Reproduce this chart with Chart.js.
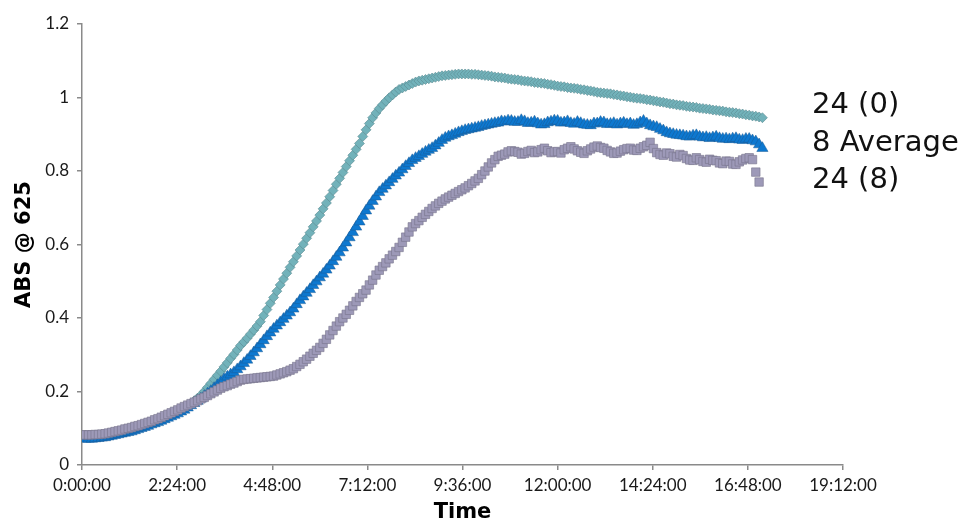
<!DOCTYPE html>
<html>
<head>
<meta charset="utf-8">
<script src="https://cdn.jsdelivr.net/npm/chart.js@4/dist/chart.umd.min.js"></script>
<style>
  html, body { margin: 0; padding: 0; background: #ffffff; }
  #wrap { position: relative; width: 971px; height: 525px; }
  #series-names {
    position: absolute; left: 812px; top: 85px;
    font-family: "DejaVu Sans", sans-serif; font-size: 29px; line-height: 37.5px;
    color: #111111; white-space: nowrap;
  }
</style>
</head>
<body>
<div id="wrap">
  <canvas id="chart" width="971" height="525"></canvas>
  <div id="series-names">
    <div>24 (0)</div>
    <div>8 Average</div>
    <div>24 (8)</div>
  </div>
</div>
<script>
// Sampling times, minutes from start of the run (one reading every 5 min)
const minutes = [
  0, 5, 10, 15, 20, 25, 30, 35, 40, 45, 50, 55,
  60, 65, 70, 75, 80, 85, 90, 95, 100, 105, 110, 115,
  120, 125, 130, 135, 140, 145, 150, 155, 160, 165, 170, 175,
  180, 185, 190, 195, 200, 205, 210, 215, 220, 225, 230, 235,
  240, 245, 250, 255, 260, 265, 270, 275, 280, 285, 290, 295,
  300, 305, 310, 315, 320, 325, 330, 335, 340, 345, 350, 355,
  360, 365, 370, 375, 380, 385, 390, 395, 400, 405, 410, 415,
  420, 425, 430, 435, 440, 445, 450, 455, 460, 465, 470, 475,
  480, 485, 490, 495, 500, 505, 510, 515, 520, 525, 530, 535,
  540, 545, 550, 555, 560, 565, 570, 575, 580, 585, 590, 595,
  600, 605, 610, 615, 620, 625, 630, 635, 640, 645, 650, 655,
  660, 665, 670, 675, 680, 685, 690, 695, 700, 705, 710, 715,
  720, 725, 730, 735, 740, 745, 750, 755, 760, 765, 770, 775,
  780, 785, 790, 795, 800, 805, 810, 815, 820, 825, 830, 835,
  840, 845, 850, 855, 860, 865, 870, 875, 880, 885, 890, 895,
  900, 905, 910, 915, 920, 925, 930, 935, 940, 945, 950, 955,
  960, 965, 970, 975, 980, 985, 990, 995, 1000, 1005, 1010, 1015,
  1020, 1025, 1030
];

// ABS @ 625 readings, one row per hour
const abs24_0 = [
  0.080, 0.080, 0.080, 0.081, 0.081, 0.081, 0.082, 0.083, 0.084, 0.086, 0.088, 0.090,
  0.092, 0.094, 0.096, 0.099, 0.101, 0.103, 0.106, 0.109, 0.112, 0.115, 0.118, 0.121,
  0.125, 0.129, 0.133, 0.137, 0.141, 0.145, 0.150, 0.156, 0.162, 0.168, 0.175, 0.182,
  0.190, 0.200, 0.211, 0.222, 0.233, 0.244, 0.255, 0.267, 0.278, 0.290, 0.301, 0.313,
  0.325, 0.335, 0.345, 0.356, 0.367, 0.378, 0.390, 0.407, 0.423, 0.440, 0.456, 0.473,
  0.490, 0.506, 0.522, 0.538, 0.553, 0.569, 0.585, 0.601, 0.617, 0.632, 0.648, 0.664,
  0.680, 0.697, 0.713, 0.730, 0.747, 0.764, 0.780, 0.796, 0.812, 0.828, 0.843, 0.859,
  0.875, 0.894, 0.912, 0.929, 0.945, 0.958, 0.970, 0.980, 0.990, 0.999, 1.007, 1.015,
  1.022, 1.026, 1.030, 1.034, 1.038, 1.042, 1.045, 1.047, 1.049, 1.051, 1.053, 1.055,
  1.057, 1.059, 1.060, 1.061, 1.062, 1.063, 1.064, 1.064, 1.064, 1.064, 1.063, 1.063,
  1.062, 1.061, 1.060, 1.059, 1.058, 1.056, 1.055, 1.054, 1.053, 1.051, 1.050, 1.049,
  1.048, 1.046, 1.045, 1.044, 1.043, 1.041, 1.040, 1.039, 1.038, 1.036, 1.035, 1.033,
  1.031, 1.030, 1.029, 1.027, 1.026, 1.025, 1.024, 1.022, 1.021, 1.019, 1.018, 1.016,
  1.014, 1.013, 1.012, 1.011, 1.010, 1.008, 1.007, 1.005, 1.004, 1.002, 1.001, 0.999,
  0.998, 0.997, 0.996, 0.994, 0.993, 0.991, 0.990, 0.988, 0.987, 0.985, 0.983, 0.982,
  0.980, 0.979, 0.978, 0.976, 0.975, 0.974, 0.973, 0.971, 0.970, 0.969, 0.968, 0.966,
  0.965, 0.964, 0.963, 0.961, 0.960, 0.959, 0.958, 0.956, 0.955, 0.953, 0.952, 0.950,
  0.949, 0.947, 0.945
];

const abs8avg = [
  0.072, 0.071, 0.071, 0.071, 0.072, 0.073, 0.074, 0.075, 0.077, 0.079, 0.081, 0.083,
  0.085, 0.087, 0.089, 0.091, 0.094, 0.097, 0.100, 0.103, 0.106, 0.110, 0.113, 0.116,
  0.120, 0.124, 0.128, 0.132, 0.136, 0.140, 0.145, 0.150, 0.156, 0.162, 0.168, 0.174,
  0.180, 0.187, 0.194, 0.201, 0.209, 0.217, 0.225, 0.233, 0.240, 0.246, 0.252, 0.260,
  0.268, 0.277, 0.286, 0.296, 0.306, 0.317, 0.328, 0.339, 0.350, 0.360, 0.370, 0.379,
  0.388, 0.397, 0.406, 0.415, 0.425, 0.437, 0.448, 0.458, 0.468, 0.478, 0.489, 0.499,
  0.510, 0.520, 0.531, 0.542, 0.554, 0.566, 0.578, 0.591, 0.605, 0.619, 0.633, 0.648,
  0.662, 0.677, 0.692, 0.705, 0.718, 0.730, 0.742, 0.751, 0.760, 0.769, 0.778, 0.787,
  0.795, 0.804, 0.813, 0.821, 0.829, 0.835, 0.840, 0.846, 0.852, 0.857, 0.862, 0.869,
  0.876, 0.884, 0.890, 0.894, 0.897, 0.901, 0.905, 0.908, 0.911, 0.913, 0.915, 0.917,
  0.919, 0.922, 0.924, 0.926, 0.928, 0.930, 0.931, 0.935, 0.934, 0.937, 0.936, 0.933,
  0.933, 0.938, 0.935, 0.930, 0.931, 0.934, 0.929, 0.926, 0.927, 0.932, 0.934, 0.937,
  0.936, 0.931, 0.932, 0.935, 0.930, 0.928, 0.933, 0.930, 0.926, 0.925, 0.924, 0.929,
  0.929, 0.933, 0.932, 0.927, 0.928, 0.930, 0.926, 0.929, 0.931, 0.927, 0.929, 0.925,
  0.927, 0.932, 0.936, 0.929, 0.924, 0.921, 0.919, 0.914, 0.910, 0.905, 0.902, 0.900,
  0.898, 0.897, 0.896, 0.894, 0.893, 0.896, 0.897, 0.893, 0.891, 0.892, 0.889, 0.891,
  0.893, 0.889, 0.887, 0.888, 0.886, 0.888, 0.889, 0.885, 0.884, 0.887, 0.887, 0.883,
  0.880, 0.872, 0.862
];

const abs24_8 = [
  0.082, 0.082, 0.082, 0.082, 0.083, 0.083, 0.084, 0.085, 0.087, 0.089, 0.091, 0.093,
  0.095, 0.098, 0.100, 0.102, 0.105, 0.107, 0.110, 0.113, 0.116, 0.119, 0.123, 0.126,
  0.130, 0.134, 0.138, 0.142, 0.146, 0.150, 0.155, 0.159, 0.163, 0.167, 0.171, 0.175,
  0.180, 0.184, 0.189, 0.194, 0.199, 0.204, 0.209, 0.213, 0.216, 0.220, 0.223, 0.227,
  0.231, 0.233, 0.234, 0.235, 0.236, 0.237, 0.238, 0.239, 0.240, 0.241, 0.242, 0.245,
  0.248, 0.251, 0.254, 0.258, 0.262, 0.268, 0.274, 0.281, 0.288, 0.296, 0.304, 0.312,
  0.320, 0.331, 0.342, 0.354, 0.366, 0.378, 0.390, 0.400, 0.410, 0.421, 0.433, 0.445,
  0.456, 0.466, 0.476, 0.490, 0.503, 0.517, 0.530, 0.540, 0.550, 0.561, 0.571, 0.581,
  0.592, 0.606, 0.620, 0.634, 0.648, 0.657, 0.665, 0.674, 0.682, 0.690, 0.698, 0.705,
  0.712, 0.718, 0.724, 0.729, 0.734, 0.739, 0.744, 0.749, 0.754, 0.760, 0.766, 0.773,
  0.780, 0.790, 0.800, 0.811, 0.822, 0.831, 0.840, 0.843, 0.846, 0.852, 0.855, 0.853,
  0.851, 0.846, 0.848, 0.853, 0.856, 0.850, 0.852, 0.858, 0.862, 0.855, 0.850, 0.852,
  0.853, 0.849, 0.858, 0.862, 0.866, 0.860, 0.855, 0.851, 0.848, 0.855, 0.860, 0.865,
  0.868, 0.864, 0.862, 0.856, 0.852, 0.848, 0.849, 0.854, 0.858, 0.861, 0.862, 0.857,
  0.856, 0.862, 0.866, 0.870, 0.878, 0.861, 0.850, 0.845, 0.843, 0.849, 0.847, 0.840,
  0.838, 0.845, 0.842, 0.834, 0.830, 0.829, 0.836, 0.831, 0.826, 0.824, 0.832, 0.829,
  0.828, 0.822, 0.820, 0.827, 0.826, 0.819, 0.818, 0.825, 0.830, 0.834, 0.836, 0.831,
  0.797, 0.770
];

// Axis setup: time axis in minutes, ticks every 2:24:00
const timeMax = 1152;
const timeStep = 144;
const absMax = 1.2;
const absStep = 0.2;

function toPoints(values) {
  const n = Math.min(values.length, minutes.length);
  const pts = [];
  for (let i = 0; i < n; i++) pts.push({ x: minutes[i], y: values[i] });
  return pts;
}

function hms(totalMinutes) {
  const m = Math.round(totalMinutes);
  const h = Math.floor(m / 60);
  const mm = m % 60;
  return h + ':' + String(mm).padStart(2, '0') + ':00';
}

const tickFont = { family: 'Lato, "DejaVu Sans", sans-serif', size: 17 };
const titleFont = { family: '"DejaVu Sans", sans-serif', size: 21, weight: 'bold' };
const axisGrey = '#8a8a8a';

new Chart(document.getElementById('chart'), {
  type: 'scatter',
  data: {
    datasets: [
      {
        label: '24 (0)',
        data: toPoints(abs24_0),
        pointStyle: 'rectRot',
        pointRadius: 5,
        backgroundColor: '#72b2ba',
        borderColor: '#5a8a90',
        borderWidth: 0.6,
        showLine: false,
        order: 3
      },
      {
        label: '8 Average',
        data: toPoints(abs8avg),
        pointStyle: 'triangle',
        pointRadius: 6.5,
        backgroundColor: '#0d78d0',
        borderColor: '#1a5a94',
        borderWidth: 0.5,
        showLine: false,
        order: 2
      },
      {
        label: '24 (8)',
        data: toPoints(abs24_8),
        pointStyle: 'rect',
        pointRadius: 6,
        backgroundColor: '#9d99b8',
        borderColor: '#77738c',
        borderWidth: 0.6,
        showLine: false,
        order: 1
      }
    ]
  },
  options: {
    responsive: false,
    animation: false,
    events: [],
    layout: { padding: { left: 0, right: 128, top: 24, bottom: 0 } },
    plugins: {
      legend: { display: false },
      tooltip: { enabled: false }
    },
    scales: {
      x: {
        type: 'linear',
        min: 0,
        max: timeMax,
        border: { display: true, color: axisGrey, width: 1.5 },
        grid: { display: true, drawOnChartArea: false, drawTicks: true, tickLength: 5, color: axisGrey, lineWidth: 1.5 },
        ticks: {
          stepSize: timeStep,
          color: '#1a1a1a',
          font: tickFont,
          padding: 5,
          maxRotation: 0,
          autoSkip: false,
          callback: (v) => hms(v)
        },
        title: { display: true, text: 'Time', color: '#000000', font: titleFont, padding: { top: 0, bottom: 0 } },
        afterFit: (scale) => { scale.height = 60; }
      },
      y: {
        type: 'linear',
        min: 0,
        max: absMax,
        border: { display: true, color: axisGrey, width: 1.5 },
        grid: { display: true, drawOnChartArea: false, drawTicks: true, tickLength: 5, color: axisGrey, lineWidth: 1.5 },
        ticks: {
          stepSize: absStep,
          color: '#1a1a1a',
          font: tickFont,
          padding: 8,
          callback: (v) => String(Number(v.toFixed(1)))
        },
        title: { display: true, text: 'ABS @ 625', color: '#000000', font: titleFont, padding: { top: 12, bottom: 0 } },
        afterFit: (scale) => { scale.width = 82; }
      }
    }
  }
});
</script>
</body>
</html>
